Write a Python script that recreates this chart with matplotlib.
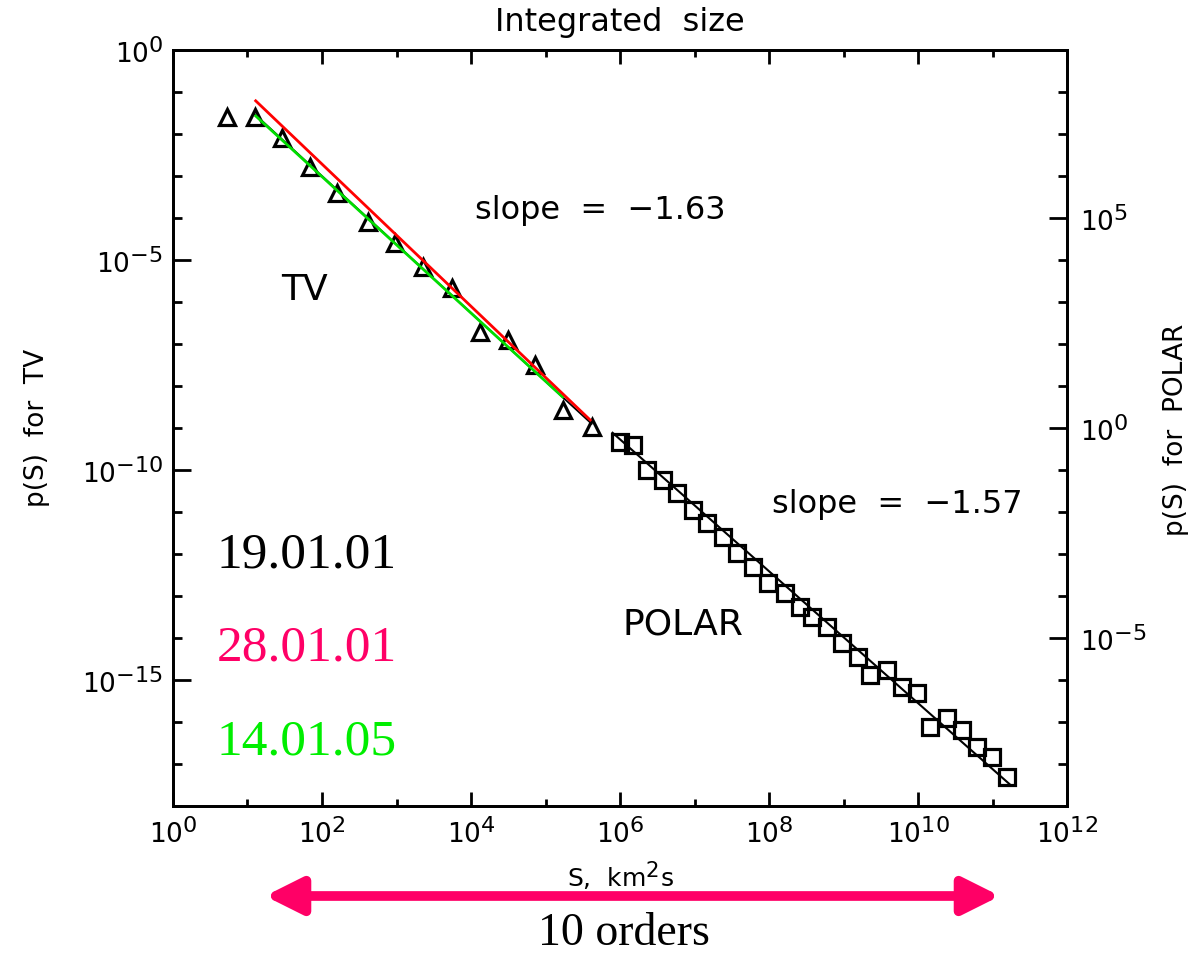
#libraries
import numpy as np
import matplotlib
matplotlib.use('Agg')
import matplotlib.pyplot as plt
import matplotlib._mathtext as mathtext_internals
from matplotlib.ticker import FixedLocator, LogFormatterSciNotation, NullFormatter
from matplotlib.patches import FancyArrowPatch

#TV points, log10 of S and of p(S)
tv_logS = [0.72, 1.10, 1.46, 1.84, 2.20, 2.62, 2.98, 3.36, 3.74, 4.12, 4.50, 4.86, 5.24, 5.62]
tv_logP = [-1.59, -1.59, -2.10, -2.78, -3.41, -4.09, -4.60, -5.16, -5.67, -6.71, -6.90, -7.50, -8.57, -8.97]

#POLAR points, p(S) read on the right axis
polar_logS = [6.00, 6.17, 6.36, 6.58, 6.77, 6.98, 7.17, 7.38, 7.57, 7.79, 7.99, 8.21, 8.42, 8.58,
              8.78, 8.98, 9.19, 9.36, 9.58, 9.79, 9.99, 10.16, 10.39, 10.59, 10.79, 10.99, 11.19]
polar_logP = [-0.33, -0.40, -1.00, -1.24, -1.55, -1.95, -2.26, -2.60, -2.98, -3.31, -3.69, -3.93, -4.26, -4.50,
              -4.74, -5.12, -5.45, -5.88, -5.76, -6.17, -6.31, -7.12, -6.90, -7.19, -7.60, -7.83, -8.31]

#power law fits
tv_slope = -1.63
tv_icpt = 0.26
tv_fit_S = [1.1, 5.62]
polar_slope = -1.57
polar_icpt = 9.15
polar_fit_S = [5.9, 11.25]

#lines for the other two dates (end points)
red_logS = [1.11, 5.60]
red_logP = [-1.21, -8.81]
green_logS = [1.11, 5.23]
green_logP = [-1.57, -8.26]

dates = ['19.01.01', '28.01.01', '14.01.05']
date_colors = ['black', '#ff0066', '#00ee00']
date_logP = [-12.02, -14.24, -16.48]

x_major = [0, 2, 4, 6, 8, 10, 12]
x_minor = [1, 3, 5, 7, 9, 11]
yl_major = [0, -5, -10, -15]
yr_major = [5, 0, -5]

def p10(v):
    return 10.0 ** np.asarray(v, dtype=float)

plt.rcParams['font.family'] = 'DejaVu Sans'
plt.rcParams['mathtext.fontset'] = 'dejavusans'
#exponents in the original are almost as big as the base
mathtext_internals.SHRINK_FACTOR = 0.85

fig = plt.figure(figsize=(11.91, 9.57), dpi=100)
ax = fig.add_axes([173/1191, 1-806/957, (1067-173)/1191, (806-50)/957])
ax.set_xscale('log')
ax.set_yscale('log')
ax.set_xlim(1, 1e12)
ax.set_ylim(1e-18, 1)

ax2 = ax.twinx()
ax2.set_yscale('log')
ax2.set_ylim(1e-9, 1e9)

#fit lines
fs = np.array(tv_fit_S)
ax.plot(p10(fs), p10(tv_icpt + tv_slope*fs), color='black', lw=1.3, zorder=2)
ax.plot(p10(green_logS), p10(green_logP), color='#00dd00', lw=2.0, zorder=4)
ax.plot(p10(red_logS), p10(red_logP), color='#ff0000', lw=2.0, zorder=4)
ps = np.array(polar_fit_S)
ax2.plot(p10(ps), p10(polar_icpt + polar_slope*ps), color='black', lw=1.5, zorder=2)

#points
ax.plot(p10(tv_logS), p10(tv_logP), linestyle='none', marker='^', ms=11, mfc='none',
        mec='black', mew=2.3, zorder=3)
ax2.plot(p10(polar_logS), p10(polar_logP), linestyle='none', marker='s', ms=12, mfc='none',
         mec='black', mew=2.3, zorder=3)

#ticks
ax.xaxis.set_major_locator(FixedLocator(p10(x_major)))
ax.xaxis.set_minor_locator(FixedLocator(p10(x_minor)))
ax.xaxis.set_major_formatter(LogFormatterSciNotation())
ax.xaxis.set_minor_formatter(NullFormatter())
ax.yaxis.set_major_locator(FixedLocator(p10(yl_major)))
ax.yaxis.set_minor_locator(FixedLocator(p10([k for k in range(-18, 1) if k not in yl_major])))
ax.yaxis.set_major_formatter(LogFormatterSciNotation())
ax.yaxis.set_minor_formatter(NullFormatter())
ax2.yaxis.set_major_locator(FixedLocator(p10(yr_major)))
ax2.yaxis.set_minor_locator(FixedLocator(p10([k for k in range(-9, 10) if k not in yr_major])))
ax2.yaxis.set_major_formatter(LogFormatterSciNotation())
ax2.yaxis.set_minor_formatter(NullFormatter())

ax.tick_params(axis='x', which='both', direction='in', top=True, bottom=True, labelsize=19, pad=8)
ax.tick_params(axis='x', which='major', length=10, width=2)
ax.tick_params(axis='x', which='minor', length=5, width=2)
ax.tick_params(axis='y', which='both', direction='in', left=True, right=False, labelsize=19, pad=7)
ax.tick_params(axis='y', which='major', length=13, width=2)
ax.tick_params(axis='y', which='minor', length=6.5, width=2)
ax2.tick_params(axis='y', which='both', direction='in', labelsize=19, pad=9)
ax2.tick_params(axis='y', which='major', length=13, width=2)
ax2.tick_params(axis='y', which='minor', length=6.5, width=2)
for a in (ax, ax2):
    for s in a.spines.values():
        s.set_linewidth(2)

#labels
fig.text(620/1191, 1-22/957, 'Integrated  size', ha='center', va='center', fontsize=23)
fig.text(37/1191, 1-428/957, 'p(S)  for  TV', rotation=90, ha='center', va='center', fontsize=19)
fig.text(1176/1191, 1-430/957, 'p(S)  for  POLAR', rotation=90, ha='center', va='center', fontsize=19)
fig.text(620/1191, 1-876/957, 'S,  km$^2$s', ha='center', va='center', fontsize=18)

ax.text(p10(5.73), p10(-3.81), 'slope  =  \u22121.63', ha='center', va='center', fontsize=23)
ax.text(p10(9.72), p10(-10.83), 'slope  =  \u22121.57', ha='center', va='center', fontsize=23)
ax.text(p10(1.77), p10(-5.71), 'TV', ha='center', va='center', fontsize=26)
ax.text(p10(6.85), p10(-13.69), 'POLAR', ha='center', va='center', fontsize=26)

for d, c, y in zip(dates, date_colors, date_logP):
    ax.text(p10(0.59), p10(y), d, color=c, ha='left', va='center', fontsize=37,
            family='Liberation Serif')

#the double arrow under the axis
arr = FancyArrowPatch((265/1191, 1-896/957), (1000/1191, 1-896/957), transform=fig.transFigure,
                      arrowstyle='<|-|>,head_length=1.0,head_width=0.5', mutation_scale=22,
                      color='#ff0066', lw=7, shrinkA=0, shrinkB=0)
fig.patches.append(arr)
fig.text(624/1191, 2/957, '10 orders', ha='center', va='bottom', fontsize=33,
         family='Liberation Serif')

fig.savefig('out.png', dpi=100)
